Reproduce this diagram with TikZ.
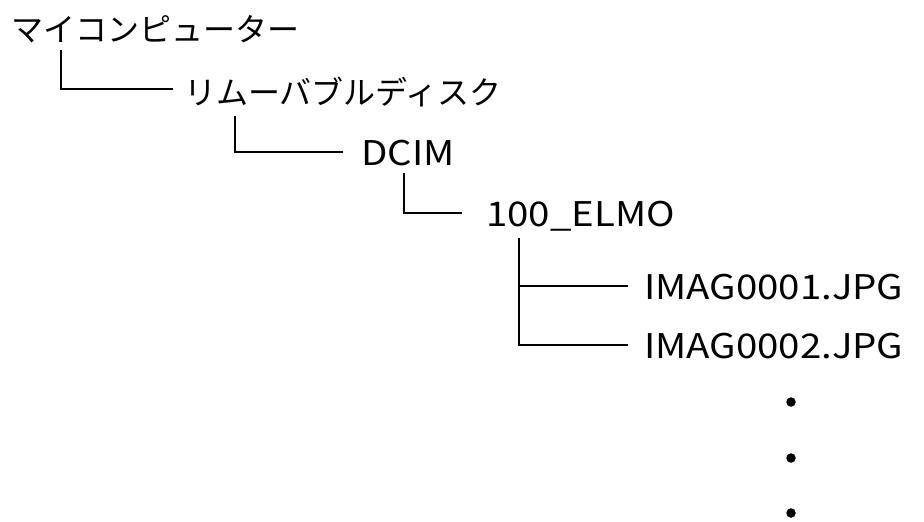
\documentclass[tikz,border=0pt]{standalone}
\usepackage{fontspec}
\setmainfont{Noto Sans CJK JP}
\newfontfamily\latinwide[FakeStretch=1.13]{Noto Sans CJK JP}
\begin{document}
\begin{tikzpicture}[x=1pt,y=-1pt,
  lbl/.style={anchor=base west,inner sep=0pt,font=\fontsize{32}{36}\selectfont},
  lat/.style={anchor=base west,inner sep=0pt,font=\latinwide\fontsize{34}{38}\selectfont},
  tree/.style={draw=black,line width=1.2pt},
  dotmark/.style={circle,fill=black,inner sep=0pt,minimum size=9.5pt}]
\useasboundingbox (0,0) rectangle (924,522);
\node[lbl] (mc) at (11,41) {マイコンピューター};
\node[lbl] (rd) at (184,104) {リムーバブルディスク};
\node[lat] (dcim) at (361,165) {DCIM};
\node[lat] (elmo) at (486,226) {100\_ELMO};
\node[lat] (f1) at (644,299) {IMAG0001.JPG};
\node[lat] (f2) at (644,358) {IMAG0002.JPG};
\coordinate (c1) at (61,50);
\coordinate (e1) at (173,89);
\coordinate (c2) at (235,116);
\coordinate (e2) at (343,152);
\coordinate (c3) at (404,173);
\coordinate (e3) at (462,213);
\coordinate (c4) at (519,238);
\coordinate (e4) at (628,286);
\coordinate (e5) at (628,345);
\draw[tree] (c1) |- (e1);
\draw[tree] (c2) |- (e2);
\draw[tree] (c3) |- (e3);
\draw[tree] (c4) |- (e5);
\draw[tree] (c4 |- e4) -- (e4);
\node[dotmark] (d1) at (791,402) {};
\node[dotmark] (d2) at (791,458) {};
\node[dotmark] (d3) at (791,513) {};
\end{tikzpicture}
\end{document}
